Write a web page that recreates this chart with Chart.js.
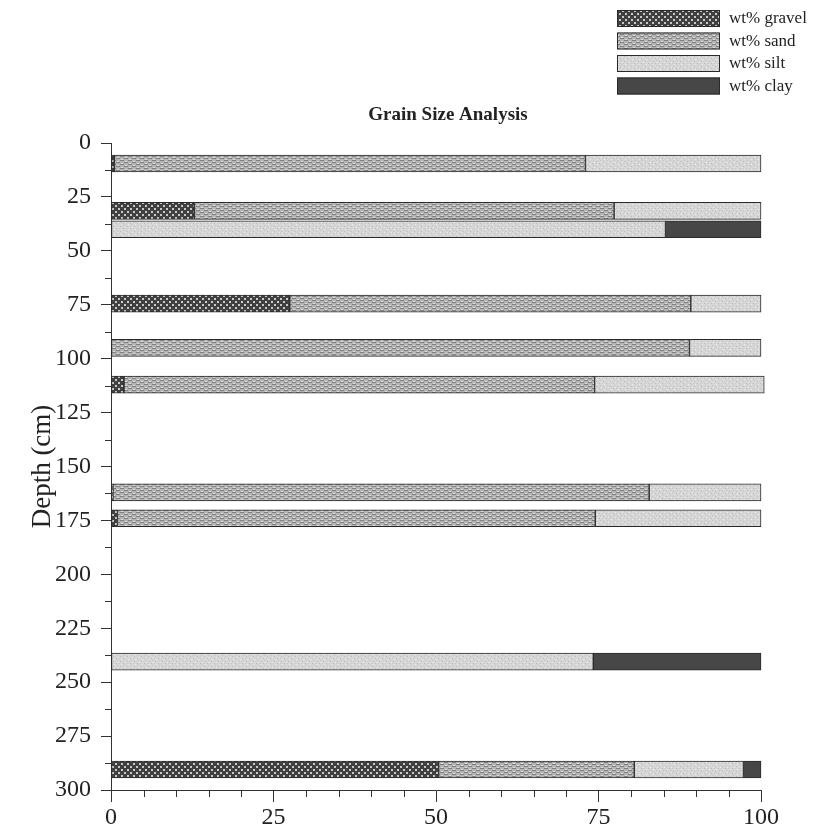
<!DOCTYPE html>
<html>
<head>
<meta charset="utf-8">
<script src="https://cdn.jsdelivr.net/npm/chart.js@4.4.0/dist/chart.umd.min.js"></script>
<style>
  html, body { margin: 0; padding: 0; background: #fff; }
  #wrap { width: 813px; height: 832px; }
</style>
</head>
<body>
<div id="wrap"><canvas id="grainChart"></canvas></div>
<script>
// sample depths (cm) and weight percents
var depths = [9.5, 31.5, 40, 74.5, 95, 112, 162, 174, 240.5, 290.5];
var gravel = [0.5, 12.8, 0, 27.5, 0, 2.0, 0.3, 1.0, 0, 50.4];
var sand   = [72.5, 64.6, 0, 61.7, 89.0, 72.4, 82.5, 73.5, 0, 30.1];
var silt   = [27.0, 22.6, 85.3, 10.8, 11.0, 26.1, 17.2, 25.5, 74.2, 16.8];
var clay   = [0, 0, 14.7, 0, 0, 0, 0, 0, 25.8, 2.7];

var depthTicks = [0, 25, 50, 75, 100, 125, 150, 175, 200, 225, 250, 275, 300];
var depthMinor = [12.5, 37.5, 62.5, 87.5, 112.5, 137.5, 162.5, 187.5, 212.5, 237.5, 262.5, 287.5];
var pctTicks = [0, 25, 50, 75, 100];
var pctMinor = [5, 10, 15, 20, 30, 35, 40, 45, 55, 60, 65, 70, 80, 85, 90, 95];

var names = ['wt% gravel', 'wt% sand', 'wt% silt', 'wt% clay'];

var canvas = document.getElementById('grainChart');
var ctx = canvas.getContext('2d');

function makePattern(w, h, bg, dots) {
    var c = document.createElement('canvas');
    c.width = w; c.height = h;
    var g = c.getContext('2d');
    g.fillStyle = bg;
    g.fillRect(0, 0, w, h);
    dots.forEach(function(d) {
        g.fillStyle = d[4];
        g.fillRect(d[0], d[1], d[2], d[3]);
    });
    return ctx.createPattern(c, 'repeat');
}

// gravel: dark checker with light dots
var gravelFill = makePattern(6, 6, '#404040', [
    [1, 1, 2, 2, '#c8c8c8'], [4, 4, 2, 2, '#c8c8c8']
]);
// sand: mid grey with short horizontal dashes
var sandFill = makePattern(8, 4, '#b4b4b4', [
    [0, 0, 4, 1, '#808080'], [4, 2, 4, 1, '#808080'],
    [5, 1, 2, 1, '#dcdcdc'], [1, 3, 2, 1, '#dcdcdc']
]);
// silt: light grey speckle
var siltFill = makePattern(7, 5, '#d6d6d6', [
    [1, 1, 1, 1, '#bdbdbd'], [4, 3, 1, 1, '#bdbdbd'], [5, 0, 1, 1, '#c6c6c6'],
    [2, 4, 1, 1, '#ececec'], [6, 2, 1, 1, '#ececec'], [0, 3, 1, 1, '#c8c8c8']
]);
var clayFill = '#474747';

var fills = [gravelFill, sandFill, siltFill, clayFill];
var series = [gravel, sand, silt, clay];

function points(vals) {
    return vals.map(function(v, i) { return {x: v, y: depths[i]}; });
}

var datasets = series.map(function(vals, k) {
    return {
        label: names[k],
        data: points(vals),
        backgroundColor: fills[k],
        borderColor: '#2a2a2a',
        borderWidth: 1,
        borderSkipped: false,
        barThickness: 17,
        clip: false
    };
});

var serif = '"Liberation Serif", "Times New Roman", serif';

var extras = {
    id: 'extras',
    afterDraw: function(chart) {
        var c = chart.ctx, a = chart.chartArea;
        var xs = chart.scales.x, ys = chart.scales.y;
        c.save();
        // minor ticks
        c.strokeStyle = '#333';
        c.lineWidth = 1;
        c.beginPath();
        depthMinor.forEach(function(v) {
            var p = Math.round(ys.getPixelForValue(v)) + 0.5;
            c.moveTo(a.left - 6, p); c.lineTo(a.left, p);
        });
        pctMinor.forEach(function(v) {
            var p = Math.round(xs.getPixelForValue(v)) + 0.5;
            c.moveTo(p, a.bottom); c.lineTo(p, a.bottom + 7);
        });
        c.stroke();

        // title
        c.fillStyle = '#222';
        c.font = 'bold 19px ' + serif;
        c.textAlign = 'center';
        c.textBaseline = 'middle';
        c.fillText('Grain Size Analysis', 448, 115);

        // legend, top right
        c.font = '17px ' + serif;
        c.textAlign = 'left';
        for (var k = 0; k < names.length; k++) {
            var y = 10 + k * 22.5;
            c.fillStyle = fills[k];
            c.fillRect(617, y, 103, 17);
            c.strokeStyle = '#2a2a2a';
            c.strokeRect(617.5, y + 0.5, 102, 16);
            c.fillStyle = '#222';
            c.fillText(names[k], 729, y + 9);
        }
        c.restore();
    }
};

new Chart(ctx, {
    type: 'bar',
    data: { datasets: datasets },
    options: {
        indexAxis: 'y',
        responsive: true,
        maintainAspectRatio: false,
        animation: false,
        layout: { padding: { top: 143, right: 52, left: 0, bottom: 0 } },
        plugins: {
            legend: { display: false },
            title: { display: false },
            tooltip: { enabled: false }
        },
        scales: {
            x: {
                type: 'linear',
                stacked: true,
                min: 0, max: 100,
                afterBuildTicks: function(axis) {
                    axis.ticks = pctTicks.map(function(v) { return {value: v}; });
                },
                afterFit: function(axis) { axis.height = 42; },
                grid: { drawOnChartArea: false, tickLength: 12, tickColor: '#333' },
                border: { display: true, color: '#333', width: 1 },
                ticks: {
                    color: '#222', padding: 1,
                    font: { family: serif, size: 24 }
                }
            },
            y: {
                type: 'linear',
                stacked: true,
                reverse: true,
                offset: false,
                min: 0, max: 300,
                afterBuildTicks: function(axis) {
                    axis.ticks = depthTicks.map(function(v) { return {value: v}; });
                },
                afterFit: function(axis) { axis.width = 111; },
                grid: { drawOnChartArea: false, offset: false, tickLength: 10, tickColor: '#333' },
                border: { display: true, color: '#333', width: 1 },
                title: {
                    display: true, text: 'Depth (cm)', color: '#222',
                    font: { family: serif, size: 27 },
                    padding: { top: 27, bottom: 0 }
                },
                ticks: {
                    color: '#222', padding: 10,
                    font: { family: serif, size: 24 }
                }
            }
        }
    },
    plugins: [extras]
});
</script>
</body>
</html>
